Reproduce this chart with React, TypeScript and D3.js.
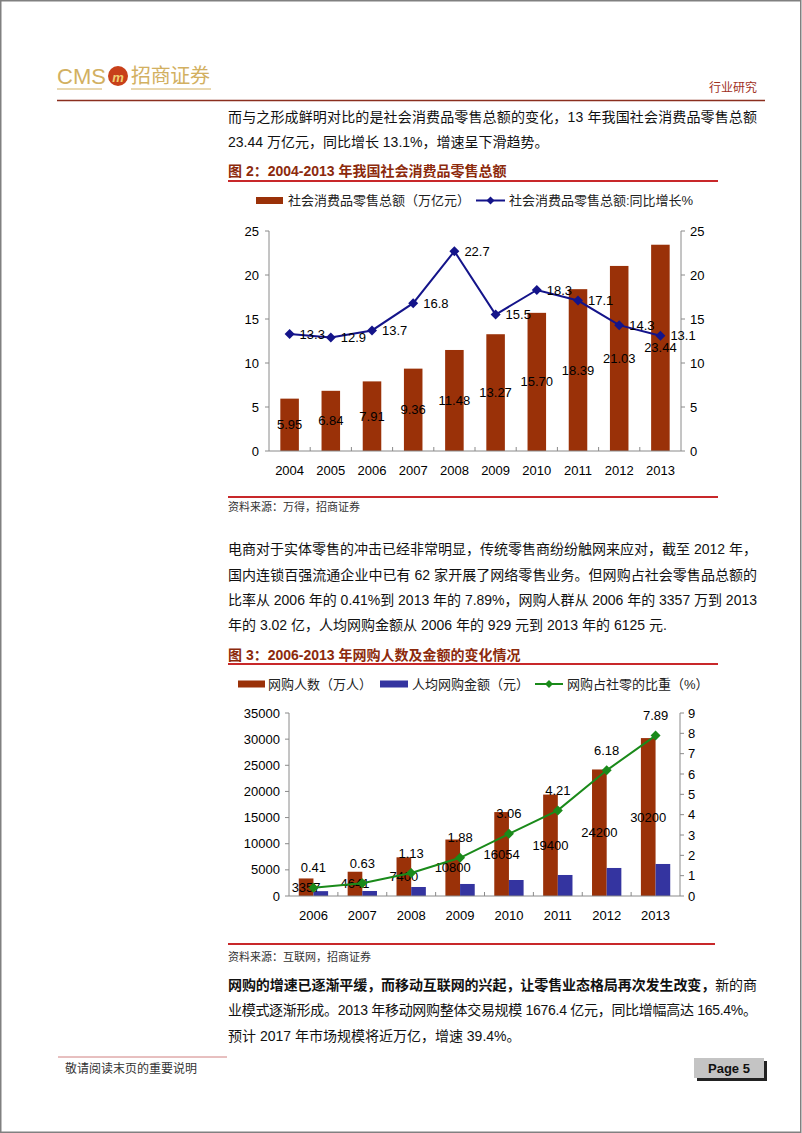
import React, { useEffect } from "react";
import * as d3 from "d3";

const years1 = ["2004", "2005", "2006", "2007", "2008", "2009", "2010", "2011", "2012", "2013"];
const retailTotal = [5.95, 6.84, 7.91, 9.36, 11.48, 13.27, 15.7, 18.39, 21.03, 23.44];
const retailGrowth = [13.3, 12.9, 13.7, 16.8, 22.7, 15.5, 18.3, 17.1, 14.3, 13.1];
const ticks1 = [0, 5, 10, 15, 20, 25];

const years2 = ["2006", "2007", "2008", "2009", "2010", "2011", "2012", "2013"];
const onlineUsers = [3357, 4641, 7400, 10800, 16054, 19400, 24200, 30200];
const perCapita = [929, 960, 1720, 2300, 3060, 4020, 5360, 6125];
const onlineShare = [0.41, 0.63, 1.13, 1.88, 3.06, 4.21, 6.18, 7.89];
const ticks2L = [0, 5000, 10000, 15000, 20000, 25000, 30000, 35000];
const ticks2R = [0, 1, 2, 3, 4, 5, 6, 7, 8, 9];

const FONT = "'Liberation Sans', Arial, 'Noto Sans CJK SC', sans-serif";
const BROWN = "#9a3108";
const NAVY = "#14148a";
const BLUE = "#3434a0";
const GREEN = "#1a8a1a";
const TITLE = "#8c2a0c";
const RED = "#c8282a";
const AXIS = "#8a8a8a";

const diamond = (r: number) => `M0,${-r}L${r},0L0,${r}L${-r},0Z`;

function Chart1() {
  const x = d3.scaleBand<string>().domain(years1).range([269, 681]);
  const y = d3.scaleLinear().domain([0, 25]).range([451, 231]);
  const bw = x.bandwidth() * 0.45;
  const cx = (d: string) => (x(d) as number) + x.bandwidth() / 2;
  const line = d3
    .line<number>()
    .x((_, i) => cx(years1[i]))
    .y((d) => y(d));
  return (
    <g fontFamily={FONT} fontSize={13}>
      {/* bars */}
      {retailTotal.map((v, i) => (
        <rect key={"b" + i} x={cx(years1[i]) - bw / 2} y={y(v)} width={bw} height={y(0) - y(v)} fill={BROWN} />
      ))}
      {/* axes */}
      <line x1={269} x2={269} y1={231} y2={451} stroke={AXIS} />
      <line x1={681} x2={681} y1={231} y2={451} stroke={AXIS} />
      <line x1={269} x2={681} y1={451} y2={451} stroke={AXIS} />
      {ticks1.map((t) => (
        <g key={"t" + t}>
          <line x1={265} x2={269} y1={y(t)} y2={y(t)} stroke={AXIS} />
          <line x1={681} x2={685} y1={y(t)} y2={y(t)} stroke={AXIS} />
          <text x={259} y={y(t)} dy="0.35em" textAnchor="end">{t}</text>
          <text x={690} y={y(t)} dy="0.35em" textAnchor="start">{t}</text>
        </g>
      ))}
      {years1.map((d, i) => (
        <g key={"x" + d}>
          {i > 0 && <line x1={x(d)} x2={x(d)} y1={451} y2={447} stroke={AXIS} />}
          <text x={cx(d)} y={470} dy="0.35em" textAnchor="middle">{d}</text>
        </g>
      ))}
      {/* bar labels */}
      {retailTotal.map((v, i) => (
        <text key={"bl" + i} x={cx(years1[i])} y={(y(v) + y(0)) / 2} dy="0.35em" textAnchor="middle">
          {v.toFixed(2)}
        </text>
      ))}
      {/* line */}
      <path d={line(retailGrowth) || ""} fill="none" stroke={NAVY} strokeWidth={2} />
      {retailGrowth.map((v, i) => (
        <path key={"d" + i} d={diamond(5)} transform={`translate(${cx(years1[i])},${y(v)})`} fill={NAVY} />
      ))}
      {retailGrowth.map((v, i) => (
        <text key={"ll" + i} x={cx(years1[i]) + 10} y={y(v)} dy="0.35em" textAnchor="start">
          {v.toFixed(1)}
        </text>
      ))}
    </g>
  );
}

function Chart2() {
  const x = d3.scaleBand<string>().domain(years2).range([289, 680]);
  const yL = d3.scaleLinear().domain([0, 35000]).range([896, 713]);
  const yR = d3.scaleLinear().domain([0, 9]).range([896, 713]);
  const bw = x.bandwidth() * 0.3;
  const cx = (d: string) => (x(d) as number) + x.bandwidth() / 2;
  const line = d3
    .line<number>()
    .x((_, i) => cx(years2[i]))
    .y((d) => yR(d));
  return (
    <g fontFamily={FONT} fontSize={13}>
      {onlineUsers.map((v, i) => (
        <rect key={"u" + i} x={cx(years2[i]) - bw} y={yL(v)} width={bw} height={yL(0) - yL(v)} fill={BROWN} />
      ))}
      {perCapita.map((v, i) => (
        <rect key={"p" + i} x={cx(years2[i])} y={yL(v)} width={bw} height={yL(0) - yL(v)} fill={BLUE} />
      ))}
      <line x1={289} x2={289} y1={713} y2={896} stroke={AXIS} />
      <line x1={680} x2={680} y1={713} y2={896} stroke={AXIS} />
      <line x1={289} x2={680} y1={896} y2={896} stroke={AXIS} />
      {ticks2L.map((t) => (
        <g key={"l" + t}>
          <line x1={285} x2={289} y1={yL(t)} y2={yL(t)} stroke={AXIS} />
          <text x={280} y={yL(t)} dy="0.35em" textAnchor="end">{t}</text>
        </g>
      ))}
      {ticks2R.map((t) => (
        <g key={"r" + t}>
          <line x1={680} x2={684} y1={yR(t)} y2={yR(t)} stroke={AXIS} />
          <text x={688} y={yR(t)} dy="0.35em" textAnchor="start">{t}</text>
        </g>
      ))}
      {years2.map((d, i) => (
        <g key={"x" + d}>
          {i > 0 && <line x1={x(d)} x2={x(d)} y1={896} y2={892} stroke={AXIS} />}
          <text x={cx(d)} y={915} dy="0.35em" textAnchor="middle">{d}</text>
        </g>
      ))}
      {onlineUsers.map((v, i) => (
        <text key={"ul" + i} x={cx(years2[i]) - bw / 2} y={(yL(v) + yL(0)) / 2} dy="0.35em" textAnchor="middle">
          {v}
        </text>
      ))}
      <path d={line(onlineShare) || ""} fill="none" stroke={GREEN} strokeWidth={2} />
      {onlineShare.map((v, i) => (
        <path key={"g" + i} d={diamond(5)} transform={`translate(${cx(years2[i])},${yR(v)})`} fill={GREEN} />
      ))}
      {onlineShare.map((v, i) => (
        <text key={"gl" + i} x={cx(years2[i])} y={yR(v) - 20} dy="0.35em" textAnchor="middle">
          {v.toFixed(2)}
        </text>
      ))}
    </g>
  );
}

function TextLine(props: { x: number; y: number; width?: number; children: React.ReactNode; size?: number; fill?: string; weight?: string }) {
  const { x, y, width, children, size = 14, fill = "#111", weight = "normal" } = props;
  return (
    <text
      x={x}
      y={y}
      dy="0.35em"
      fontFamily={FONT}
      fontSize={size}
      fill={fill}
      fontWeight={weight}
      {...(width ? { textLength: width, lengthAdjust: "spacing" } : {})}
    >
      {children}
    </text>
  );
}

export default function App() {
  useEffect(() => {
    document.body.style.margin = "0";
  }, []);
  return (
    <svg width={802} height={1133} style={{ position: "absolute", left: 0, top: 0, background: "#fff" }}>
      <rect x={0.75} y={0.75} width={800} height={1131.5} fill="#fff" stroke="#808080" strokeWidth={1.5} />
      {/* header logo */}
      <text x={57} y={76} dy="0.35em" fontFamily={FONT} fontSize={22} fill="#d2b061">CMS</text>
      <circle cx={118} cy={76} r={10} fill="#c8401a" />
      <text x={118} y={77} dy="0.35em" textAnchor="middle" fontFamily={FONT} fontSize={13} fontWeight="bold" fontStyle="italic" fill="#f0d070">m</text>
      <text x={131} y={76} dy="0.35em" fontFamily="'Noto Sans CJK SC', sans-serif" fontSize={20} fill="#d2b061" textLength={79} lengthAdjust="spacing">招商证券</text>
      <line x1={57} x2={102} y1={89} y2={89} stroke="#d2b061" strokeWidth={1} />
      <line x1={131} x2={211} y1={89} y2={89} stroke="#d2b061" strokeWidth={1} />
      <text x={757} y={88} dy="0.35em" textAnchor="end" fontFamily={FONT} fontSize={12} fill="#a0301e">行业研究</text>
      <line x1={57} x2={765} y1={100.5} y2={100.5} stroke="#8b2e1e" strokeWidth={1.5} />

      {/* paragraph 1 */}
      <TextLine x={228} y={117} width={529}>而与之形成鲜明对比的是社会消费品零售总额的变化，13 年我国社会消费品零售总额</TextLine>
      <TextLine x={228} y={142}>23.44 万亿元，同比增长 13.1%，增速呈下滑趋势。</TextLine>

      {/* figure 2 title */}
      <TextLine x={228} y={171} fill={TITLE} weight="bold">图 2：2004-2013 年我国社会消费品零售总额</TextLine>
      <line x1={228} x2={718} y1={181} y2={181} stroke={RED} strokeWidth={2} />

      {/* legend 1 */}
      <rect x={256} y={197} width={27} height={7} fill={BROWN} />
      <TextLine x={288} y={200.5} size={13} fill="#222">社会消费品零售总额（万亿元）</TextLine>
      <line x1={476} x2={505} y1={200.5} y2={200.5} stroke={NAVY} strokeWidth={2} />
      <path d={diamond(4)} transform="translate(490.5,200.5)" fill={NAVY} />
      <TextLine x={509} y={200.5} size={13} fill="#222">社会消费品零售总额:同比增长%</TextLine>

      <Chart1 />

      <line x1={228} x2={718} y1={497} y2={497} stroke={RED} strokeWidth={2} />
      <TextLine x={228} y={507} size={11} fill="#333">资料来源：万得，招商证券</TextLine>

      {/* paragraph 2 */}
      <TextLine x={228} y={549} width={529}>电商对于实体零售的冲击已经非常明显，传统零售商纷纷触网来应对，截至 2012 年，</TextLine>
      <TextLine x={228} y={575} width={529}>国内连锁百强流通企业中已有 62 家开展了网络零售业务。但网购占社会零售品总额的</TextLine>
      <TextLine x={228} y={600} width={529}>比率从 2006 年的 0.41%到 2013 年的 7.89%，网购人群从 2006 年的 3357 万到 2013</TextLine>
      <TextLine x={228} y={625}>年的 3.02 亿，人均网购金额从 2006 年的 929 元到 2013 年的 6125 元.</TextLine>

      {/* figure 3 title */}
      <TextLine x={228} y={655} fill={TITLE} weight="bold">图 3：2006-2013 年网购人数及金额的变化情况</TextLine>
      <line x1={228} x2={718} y1={664} y2={664} stroke={RED} strokeWidth={2} />

      {/* legend 2 */}
      <rect x={238} y={680.5} width={27} height={7} fill={BROWN} />
      <TextLine x={268} y={684} size={13} fill="#222">网购人数（万人）</TextLine>
      <rect x={380} y={680.5} width={28} height={7} fill={BLUE} />
      <TextLine x={412} y={684} size={13} fill="#222">人均网购金额（元）</TextLine>
      <line x1={535} x2={563} y1={684} y2={684} stroke={GREEN} strokeWidth={2} />
      <path d={diamond(4)} transform="translate(549,684)" fill={GREEN} />
      <TextLine x={567} y={684} size={13} fill="#222">网购占社零的比重（%）</TextLine>

      <Chart2 />

      <line x1={228} x2={715} y1={944} y2={944} stroke={RED} strokeWidth={2} />
      <TextLine x={228} y={957} size={11} fill="#333">资料来源：互联网，招商证券</TextLine>

      {/* paragraph 3 */}
      <text x={228} y={985} dy="0.35em" fontFamily={FONT} fontSize={14} fill="#111" textLength={529} lengthAdjust="spacing">
        <tspan fontWeight="bold">网购的增速已逐渐平缓，而移动互联网的兴起，让零售业态格局再次发生改变，</tspan>
        <tspan>新的商</tspan>
      </text>
      <TextLine x={228} y={1010} width={529}>业模式逐渐形成。2013 年移动网购整体交易规模 1676.4 亿元，同比增幅高达 165.4%。</TextLine>
      <TextLine x={228} y={1036}>预计 2017 年市场规模将近万亿，增速 39.4%。</TextLine>

      {/* footer */}
      <line x1={58} x2={227} y1={1057} y2={1057} stroke="#d08080" strokeWidth={1} />
      <TextLine x={65} y={1069} size={12} fill="#333">敬请阅读末页的重要说明</TextLine>
      <rect x={697} y={1061} width={70} height={20} fill="#222" />
      <rect x={694} y={1058} width={70} height={20} fill="#c4c4c4" />
      <text x={729} y={1068} dy="0.35em" textAnchor="middle" fontFamily={FONT} fontSize={13} fontWeight="bold" fill="#111">Page 5</text>
    </svg>
  );
}
